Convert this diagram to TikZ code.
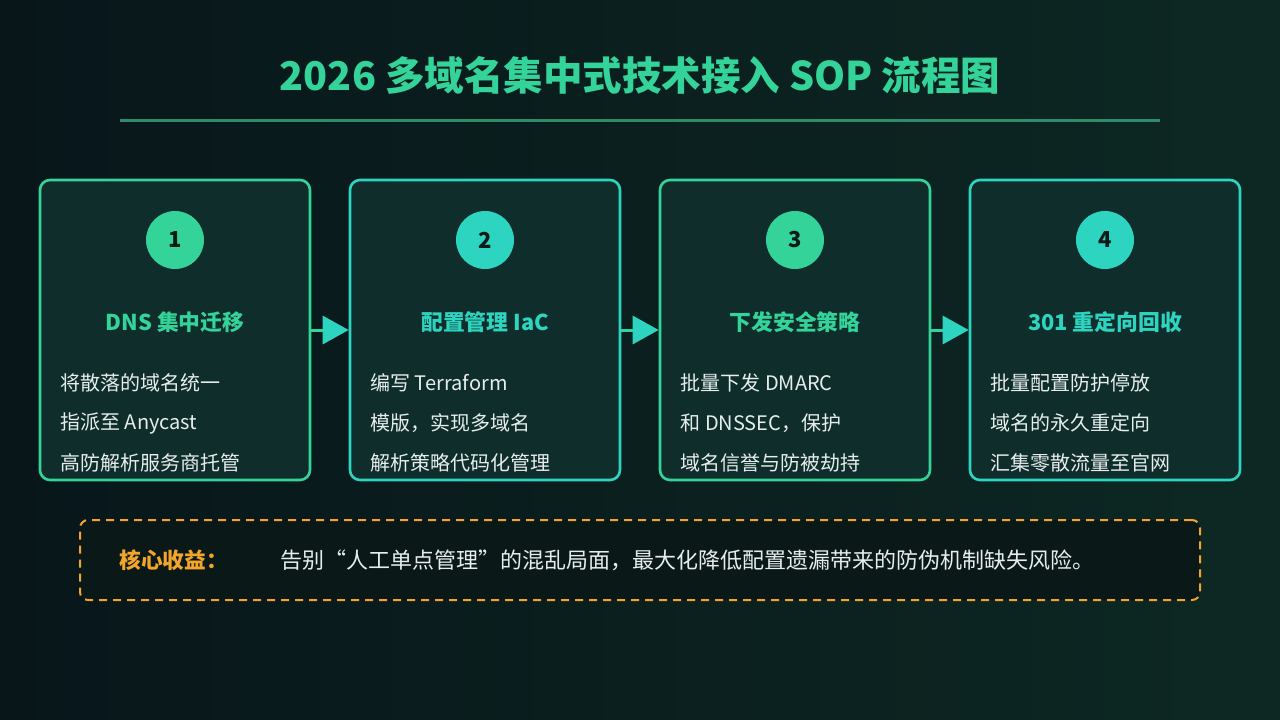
\documentclass[tikz,border=0pt]{standalone}
\usepackage{fontspec}
\setmainfont{Noto Sans CJK SC}
\usepackage{xcolor}
\usepackage{tikz}
\usetikzlibrary{arrows.meta}

\definecolor{bgleft}{HTML}{08161A}
\definecolor{bgright}{HTML}{0D2823}
\definecolor{stepfill}{HTML}{0F2E2B}
\definecolor{mintgreen}{HTML}{34D399}
\definecolor{tealblue}{HTML}{2DD4BF}
\definecolor{rulecol}{HTML}{2E8C6C}
\definecolor{bodytext}{HTML}{E6EEEC}
\definecolor{amber}{HTML}{F2A52A}
\definecolor{notefill}{HTML}{0A1918}
\definecolor{darknum}{HTML}{0B1A18}

\tikzset{
  stepbox/.style={draw=#1, fill=stepfill, line width=2.6pt, rounded corners=10pt,
    minimum width=270pt, minimum height=300pt},
  stepnum/.style={circle, fill=#1, minimum size=58pt, inner sep=0pt,
    text=darknum, font=\fontsize{22}{26}\selectfont\bfseries},
  steptitle/.style={text=#1, font=\fontsize{21.8}{26}\selectfont\bfseries},
  stepline/.style={anchor=west, text=bodytext, font=\fontsize{20}{24}\selectfont},
  flowarrow/.style={draw=mintgreen, line width=3pt,
    -{Triangle[length=26pt,width=28pt,color=tealblue]}},
}

\begin{document}
\begin{tikzpicture}[x=1pt,y=-1pt]
  % background
  \shade[left color=bgleft, right color=bgright] (0,0) rectangle (1280,720);
  \useasboundingbox (0,0) rectangle (1280,720);

  % Drawing title
  \node[text=mintgreen, font=\fontsize{39.5}{44}\selectfont\bfseries] (title) at (640,75)
    {2026 多域名集中式技术接入 SOP 流程图};
  \draw[rulecol, line width=3pt] (120,120) -- (1160,120);

  % Drawing step 1
  \node[stepbox=mintgreen] (box1) at (175,330) {};
  \node[stepnum=mintgreen] (num1) at (175,240) {1};
  \node[steptitle=mintgreen] (head1) at (175,322) {DNS 集中迁移};
  \node[stepline] (t1a) at (57,383) {将散落的域名统一};
  \node[stepline] (t1b) at (57,423) {指派至 Anycast};
  \node[stepline] (t1c) at (57,463) {高防解析服务商托管};

  % Drawing step 2
  \node[stepbox=tealblue] (box2) at (485,330) {};
  \node[stepnum=tealblue] (num2) at (485,240) {2};
  \node[steptitle=tealblue] (head2) at (485,322) {配置管理 IaC};
  \node[stepline] (t2a) at (367,383) {编写 Terraform};
  \node[stepline] (t2b) at (367,423) {模版，实现多域名};
  \node[stepline] (t2c) at (367,463) {解析策略代码化管理};

  % Drawing step 3
  \node[stepbox=mintgreen] (box3) at (795,330) {};
  \node[stepnum=mintgreen] (num3) at (795,240) {3};
  \node[steptitle=mintgreen] (head3) at (795,322) {下发安全策略};
  \node[stepline] (t3a) at (677,383) {批量下发 DMARC};
  \node[stepline] (t3b) at (677,423) {和 DNSSEC，保护};
  \node[stepline] (t3c) at (677,463) {域名信誉与防被劫持};

  % Drawing step 4
  \node[stepbox=tealblue] (box4) at (1105,330) {};
  \node[stepnum=tealblue] (num4) at (1105,240) {4};
  \node[steptitle=tealblue] (head4) at (1105,322) {301 重定向回收};
  \node[stepline] (t4a) at (987,383) {批量配置防护停放};
  \node[stepline] (t4b) at (987,423) {域名的永久重定向};
  \node[stepline] (t4c) at (987,463) {汇集零散流量至官网};

  % Drawing arrows between steps
  \draw[flowarrow] (box1.east) -- (box2.west);
  \draw[flowarrow] (box2.east) -- (box3.west);
  \draw[flowarrow] (box3.east) -- (box4.west);

  % Drawing benefit note
  \node[draw=amber, fill=notefill, dashed, dash pattern=on 8pt off 6pt, line width=2pt,
    rounded corners=8pt, minimum width=1120pt, minimum height=80pt] (note) at (640,560) {};
  \node[anchor=west, text=amber, font=\fontsize{21.7}{26}\selectfont\bfseries] (notelabel)
    at (116,560) {核心收益：};
  \node[anchor=west, text=bodytext, font=\fontsize{22}{26}\selectfont] (notetext)
    at (277,560) {告别“人工单点管理”的混乱局面，最大化降低配置遗漏带来的防伪机制缺失风险。};
\end{tikzpicture}
\end{document}
